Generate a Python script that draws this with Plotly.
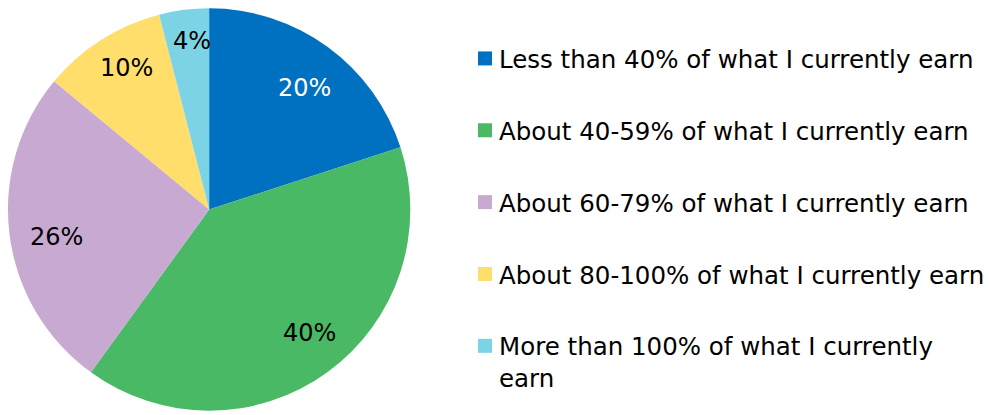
import math
import plotly.graph_objects as go

categories = [
    "Less than 40% of what I currently earn",
    "About 40-59% of what I currently earn",
    "About 60-79% of what I currently earn",
    "About 80-100% of what I currently earn",
    "More than 100% of what I currently<br>earn",
]
values = [20, 40, 26, 10, 4]
colors = ["#0070C0", "#49B965", "#C8A9D1", "#FFDE6C", "#7DD3E6"]
label_colors = ["#FFFFFF", "#000000", "#000000", "#000000", "#000000"]
# data-label placement styling: fraction of radius, angular nudge (deg)
label_radius = [0.777, 0.78, 0.767, 0.824, 0.853]
label_angle_nudge = [1.5, -3.9, -1.9, 2.5, 1.5]

FONT = "DejaVu Sans, Verdana, sans-serif"
W, H = 990, 415
PIE_X = [8, 412]      # pixel extent of pie domain
PIE_Y = [7, 412]

fig = go.Figure()
fig.add_trace(go.Pie(
    labels=categories,
    values=values,
    sort=False,
    direction="clockwise",
    rotation=0,
    marker=dict(colors=colors, line=dict(width=0)),
    textinfo="none",
    showlegend=False,
    hoverinfo="label+value",
    domain=dict(x=[PIE_X[0] / W, PIE_X[1] / W],
                y=[1 - PIE_Y[1] / H, 1 - PIE_Y[0] / H]),
))

# data labels computed from the slice geometry
cx = (PIE_X[0] + PIE_X[1]) / 2
cy = (PIE_Y[0] + PIE_Y[1]) / 2
R = min(PIE_X[1] - PIE_X[0], PIE_Y[1] - PIE_Y[0]) / 2
total = sum(values)
cum = 0
for v, col, fr, nd in zip(values, label_colors, label_radius, label_angle_nudge):
    mid = (cum + v / 2) / total * 2 * math.pi + math.radians(nd)
    cum += v
    px = cx + R * fr * math.sin(mid)
    py = cy - R * fr * math.cos(mid)
    fig.add_annotation(
        x=px / W, y=1 - py / H, xref="paper", yref="paper",
        text=f"{v}%", showarrow=False,
        font=dict(family=FONT, size=24, color=col),
        xanchor="center", yanchor="middle", yshift=-3,
    )

# legend entries
for i, (cat, col) in enumerate(zip(categories, colors)):
    fig.add_trace(go.Scatter(
        x=[None], y=[None], mode="markers", name=cat,
        marker=dict(symbol="square", size=14, color=col, angle=90, standoff=6),
        legendgroup=f"g{i}", showlegend=True, hoverinfo="skip",
    ))

fig.update_layout(
    width=W, height=H,
    margin=dict(l=0, r=0, t=0, b=0),
    paper_bgcolor="white", plot_bgcolor="white",
    xaxis=dict(visible=False), yaxis=dict(visible=False),
    legend=dict(
        x=461 / W, y=1 - 36 / H, xanchor="left", yanchor="top",
        font=dict(family=FONT, size=24.5, color="#000000"),
        tracegroupgap=37, valign="top",
        bgcolor="rgba(0,0,0,0)",
    ),
    font=dict(family=FONT),
)
fig.write_html("out.html", config={"displayModeBar": False},
               post_script="document.body.style.margin='0';")
